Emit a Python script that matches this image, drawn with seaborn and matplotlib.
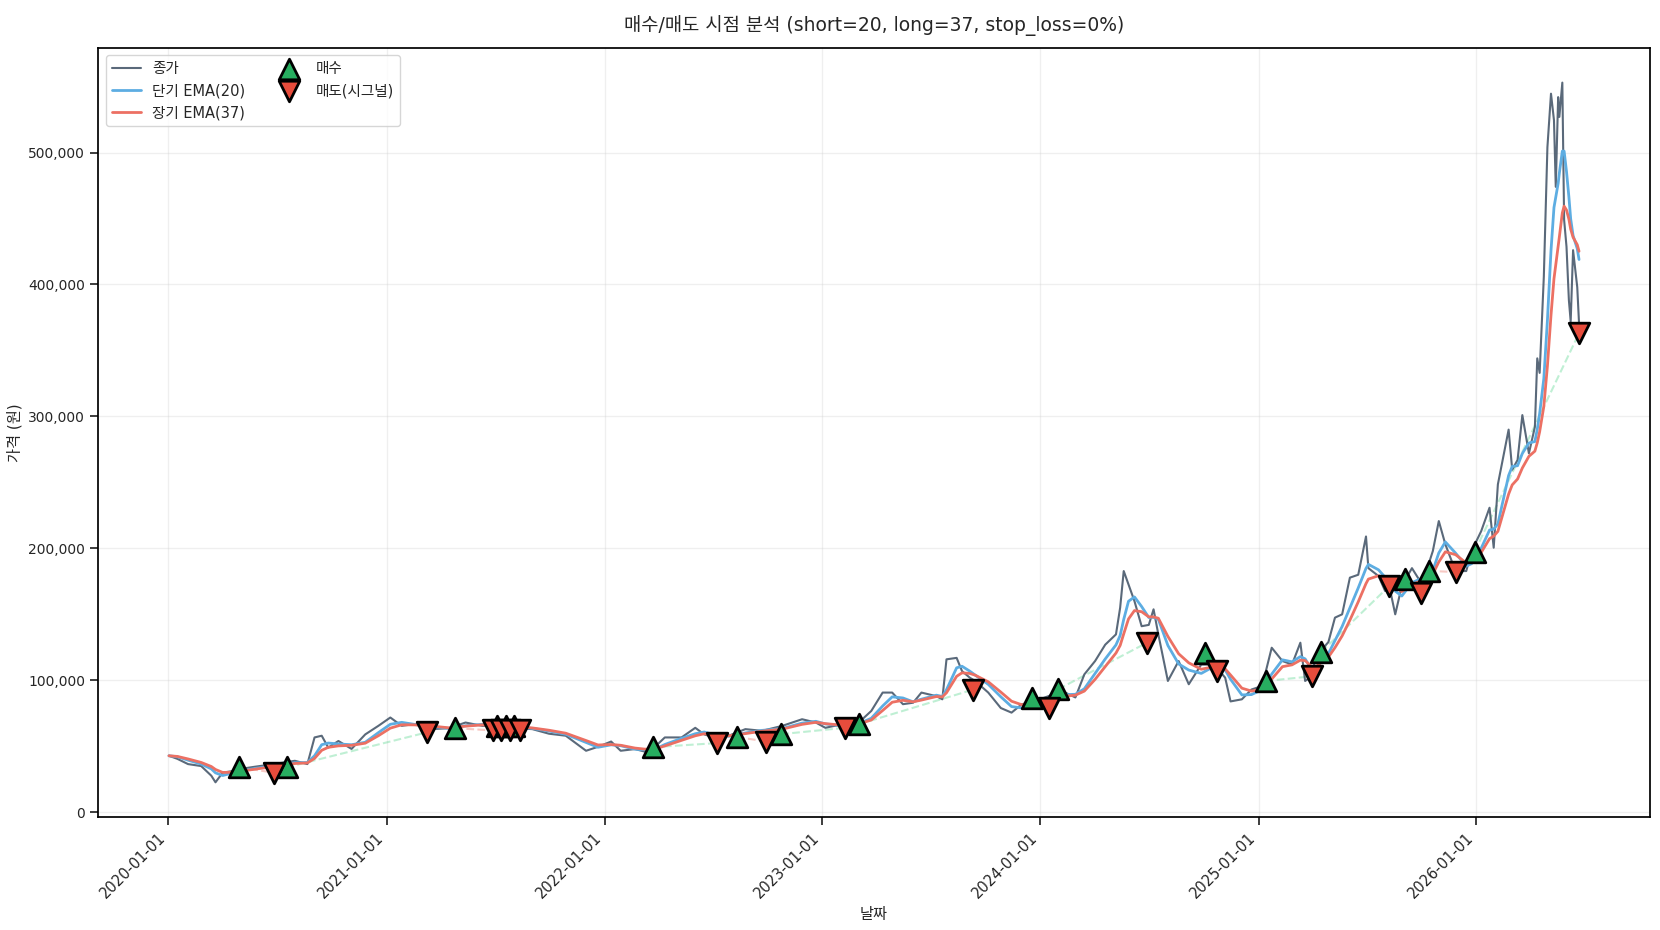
import numpy as np
import pandas as pd
import matplotlib
matplotlib.use("Agg")
import matplotlib.pyplot as plt
import matplotlib.dates as mdates
from matplotlib.ticker import FuncFormatter
import seaborn as sns

# close price (thousand won)
close_dates = [
    "2020-01-02", "2020-01-16", "2020-02-03", "2020-02-25", "2020-03-13", "2020-03-20", "2020-04-01",
    "2020-04-15", "2020-04-29", "2020-05-25", "2020-06-26", "2020-07-31", "2020-08-21", "2020-09-02",
    "2020-09-14", "2020-09-25", "2020-10-12", "2020-11-03", "2020-11-26", "2020-12-18",
    "2021-01-07", "2021-01-26", "2021-02-17", "2021-03-17", "2021-04-15", "2021-05-13", "2021-06-10",
    "2021-07-08", "2021-08-05", "2021-09-02", "2021-09-30", "2021-10-28", "2021-12-01", "2021-12-21",
    "2022-01-12", "2022-01-28", "2022-02-21", "2022-03-09", "2022-03-25", "2022-04-12", "2022-05-10",
    "2022-06-02", "2022-06-17", "2022-07-05", "2022-07-28", "2022-08-25", "2022-09-22", "2022-10-26",
    "2022-11-28", "2022-12-21",
    "2023-01-06", "2023-02-03", "2023-03-03", "2023-03-24", "2023-04-12", "2023-04-28", "2023-05-16",
    "2023-06-02", "2023-06-16", "2023-07-11", "2023-07-21", "2023-07-28", "2023-08-14", "2023-08-23",
    "2023-09-05", "2023-09-14", "2023-10-06", "2023-10-27", "2023-11-14", "2023-12-01", "2023-12-22",
    "2024-01-15", "2024-02-06", "2024-02-29", "2024-03-15", "2024-04-02", "2024-04-19", "2024-05-07",
    "2024-05-14", "2024-05-20", "2024-05-28", "2024-06-07", "2024-06-19", "2024-07-01", "2024-07-09",
    "2024-07-17", "2024-08-02", "2024-08-20", "2024-09-06", "2024-09-27", "2024-10-18", "2024-11-06",
    "2024-11-15", "2024-12-04", "2024-12-20",
    "2025-01-07", "2025-01-23", "2025-02-10", "2025-02-26", "2025-03-12", "2025-03-20", "2025-03-31",
    "2025-04-07", "2025-04-28", "2025-05-09", "2025-05-21", "2025-06-03", "2025-06-17", "2025-06-30",
    "2025-07-04", "2025-07-21", "2025-08-01", "2025-08-08", "2025-08-18", "2025-08-29", "2025-09-15",
    "2025-10-02", "2025-10-20", "2025-10-30", "2025-11-10", "2025-11-27", "2025-12-15", "2025-12-24",
    "2026-01-09", "2026-01-23", "2026-01-30", "2026-02-06", "2026-02-24", "2026-03-02", "2026-03-11",
    "2026-03-19", "2026-03-30", "2026-04-09", "2026-04-13", "2026-04-17", "2026-04-24", "2026-04-30",
    "2026-05-06", "2026-05-11", "2026-05-14", "2026-05-18", "2026-05-20", "2026-05-25", "2026-05-28",
    "2026-06-01", "2026-06-05", "2026-06-08", "2026-06-12", "2026-06-19", "2026-06-22",
]
close_k = [
    42.8, 40.5, 36.5, 35.0, 27.7, 22.7, 30.0,
    31.0, 32.7, 34.5, 36.5, 39.0, 36.5, 56.7,
    58.0, 49.0, 54.0, 48.0, 59.0, 65.5,
    71.8, 65.5, 66.8, 63.0, 63.7, 68.0, 65.5,
    65.5, 63.7, 63.0, 59.5, 58.0, 46.6, 49.6,
    53.6, 46.6, 47.9, 46.0, 49.0, 56.7, 56.7,
    64.0, 59.0, 56.7, 58.0, 63.0, 61.7, 65.5,
    70.5, 68.0,
    64.0, 66.7, 68.0, 76.8, 90.7, 90.7, 81.9,
    83.0, 90.7, 88.0, 85.6, 115.9, 117.0, 107.0,
    102.0, 99.5, 90.7, 79.0, 75.5, 81.8, 84.0,
    88.0, 92.0, 87.0, 104.5, 114.6, 127.0, 134.8,
    155.0, 182.8, 172.7, 160.0, 141.0, 142.0, 153.8,
    134.8, 99.5, 114.6, 97.0, 112.0, 112.0, 102.0,
    84.0, 85.6, 93.0,
    95.7, 124.7, 114.6, 112.0, 128.5, 99.5, 103.0,
    118.0, 129.0, 147.5, 150.0, 177.8, 180.0, 209.0,
    185.0, 179.0, 167.7, 171.5, 150.0, 171.5, 185.0,
    172.7, 198.0, 220.7, 203.0, 182.8, 182.8, 198.0,
    213.0, 230.8, 200.5, 248.5, 290.0, 259.6, 267.0,
    301.0, 272.0, 292.0, 344.0, 333.0, 406.0, 504.0,
    544.6, 524.5, 474.0, 542.0, 527.0, 553.0, 449.0,
    428.6, 388.0, 372.0, 426.0, 398.0, 370.6,
]

buy_dates = [
    "2020-04-29", "2020-07-17", "2021-04-26", "2021-07-05", "2021-07-20", "2021-08-02",
    "2022-03-23", "2022-08-11", "2022-10-24", "2023-03-03", "2023-12-18", "2024-01-31",
    "2024-10-04", "2025-01-13", "2025-04-16", "2025-09-03", "2025-10-13", "2025-12-29",
]
buy_k = [34.0, 34.0, 63.7, 65.0, 65.5, 65.0, 49.3, 57.0, 59.2, 66.7, 86.9, 93.2,
         121.0, 99.5, 121.5, 177.0, 183.0, 197.5]

sell_dates = [
    "2020-06-26", "2021-03-09", "2021-06-28", "2021-07-12", "2021-07-26", "2021-08-13",
    "2022-07-08", "2022-09-29", "2023-02-08", "2023-09-11", "2024-01-15", "2024-06-28",
    "2024-10-23", "2025-03-31", "2025-08-08", "2025-10-01", "2025-11-27", "2026-06-22",
]
sell_k = [30.0, 60.5, 62.0, 62.0, 62.0, 62.5, 52.4, 53.6, 64.0, 93.0, 78.8, 128.5,
          107.0, 103.0, 171.5, 166.0, 182.0, 363.0]

SHORT, LONG = 20, 37


def ema_irregular(dates, values, span):
    # span in trading days -> time constant in calendar days; samples are irregular
    tau = -1 / np.log(1 - 2 / (span + 1)) * 7 / 5
    days = (dates - dates.iloc[0]).dt.days.to_numpy()
    out = np.empty(len(values))
    out[0] = values[0]
    for i in range(1, len(values)):
        a = 1 - np.exp(-(days[i] - days[i - 1]) / tau)
        mid = 0.5 * (values[i] + values[i - 1])
        out[i] = out[i - 1] + a * (mid - out[i - 1])
    return out


df = pd.DataFrame({"date": pd.to_datetime(close_dates), "close": np.array(close_k) * 1000})
df["ema_s"] = ema_irregular(df["date"], df["close"].to_numpy(), SHORT)
df["ema_l"] = ema_irregular(df["date"], df["close"].to_numpy(), LONG)

buys = pd.DataFrame({"date": pd.to_datetime(buy_dates), "price": np.array(buy_k) * 1000})
sells = pd.DataFrame({"date": pd.to_datetime(sell_dates), "price": np.array(sell_k) * 1000})

sns.set_theme(style="ticks")
plt.rcParams["font.family"] = ["DejaVu Sans", "Noto Sans CJK KR"]
plt.rcParams["axes.edgecolor"] = "black"
plt.rcParams["axes.unicode_minus"] = False

fig, ax = plt.subplots(figsize=(16.6, 9.3), dpi=100)
fig.subplots_adjust(left=0.0593, right=0.9937, top=0.9488, bottom=0.1212)

# trade lines buy -> sell
for (_, b), (_, s) in zip(buys.iterrows(), sells.iterrows()):
    c = "#2ecc71" if s["price"] > b["price"] else "#e74c3c"
    ax.plot([b["date"], s["date"]], [b["price"], s["price"]], ls="--", color=c,
            alpha=0.3, lw=1.5, zorder=1)

sns.lineplot(data=df, x="date", y="close", ax=ax, color="#3d4f63", lw=1.5, alpha=0.85, label="종가", zorder=2)
sns.lineplot(data=df, x="date", y="ema_s", ax=ax, color="#5dade2", lw=2, label=f"단기 EMA({SHORT})", zorder=3)
sns.lineplot(data=df, x="date", y="ema_l", ax=ax, color="#ec7063", lw=2, label=f"장기 EMA({LONG})", zorder=3)

sns.scatterplot(data=buys, x="date", y="price", ax=ax, marker="^", s=220, color="#27ae60",
                edgecolor="black", linewidth=2, label="매수", zorder=5)
sns.scatterplot(data=sells, x="date", y="price", ax=ax, marker="v", s=220, color="#e74c3c",
                edgecolor="black", linewidth=2, label="매도(시그널)", zorder=5)

ax.set_title(f"매수/매도 시점 분석 (short={SHORT}, long={LONG}, stop_loss=0%)", fontsize=13.5, pad=12)
ax.set_xlabel("날짜", fontsize=11)
ax.set_ylabel("가격 (원)", fontsize=11)
ax.grid(True, alpha=0.3)
ax.xaxis.set_major_locator(mdates.YearLocator())
ax.xaxis.set_major_formatter(mdates.DateFormatter("%Y-%m-%d"))
ax.yaxis.set_major_formatter(FuncFormatter(lambda v, p: f"{v:,.0f}"))
ax.tick_params(axis="x", labelsize=10.5)
ax.tick_params(axis="y", labelsize=10)
plt.setp(ax.get_xticklabels(), rotation=45, ha="right")
ax.legend(loc="upper left", ncol=2, fontsize=10.5)

fig.savefig("out.png", dpi=100)
